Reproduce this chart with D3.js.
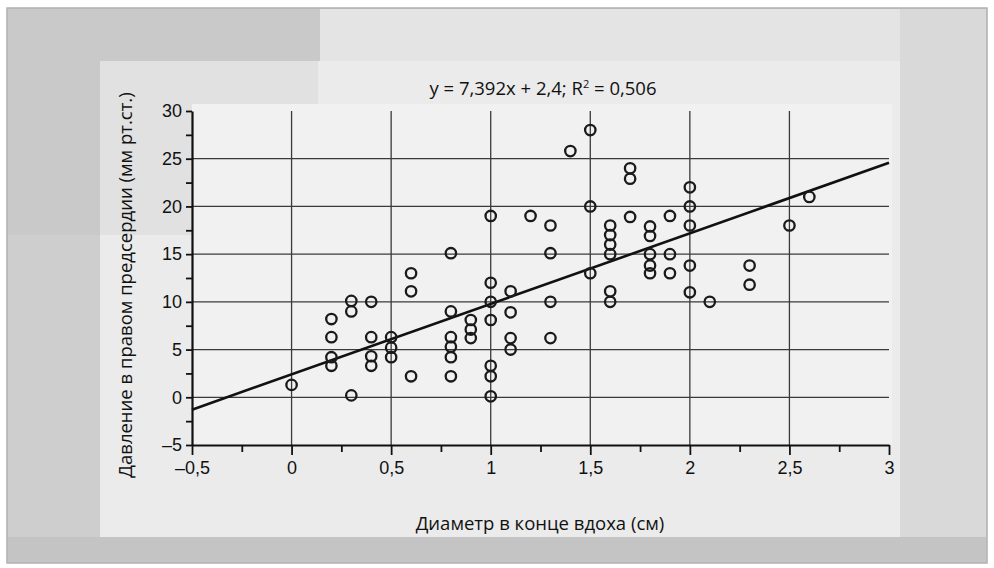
<!DOCTYPE html>
<meta charset="utf-8">
<style>
body { margin: 0; background: #ffffff; }
svg { font-family: "Open Sans", sans-serif; }
.axis path, .axis line { stroke: #111; }
.axis text { font-size: 18px; fill: #111; }
.grid line { stroke: #3a3a3a; stroke-width: 1.3; }
</style>
<svg width="994" height="568"></svg>
<script src="https://d3js.org/d3.v7.min.js"></script>
<script>

// diameter at end of inspiration (cm) and right atrial pressure (mm Hg)
var diameter = [0,
    0.2, 0.2, 0.2, 0.2,
    0.3, 0.3, 0.3,
    0.4, 0.4, 0.4, 0.4,
    0.5, 0.5, 0.5,
    0.6, 0.6, 0.6,
    0.8, 0.8, 0.8, 0.8, 0.8, 0.8,
    0.9, 0.9, 0.9,
    1.0, 1.0, 1.0, 1.0, 1.0, 1.0, 1.0,
    1.1, 1.1, 1.1, 1.1,
    1.2,
    1.3, 1.3, 1.3, 1.3,
    1.4,
    1.5, 1.5, 1.5,
    1.6, 1.6, 1.6, 1.6, 1.6, 1.6,
    1.7, 1.7, 1.7,
    1.8, 1.8, 1.8, 1.8, 1.8,
    1.9, 1.9, 1.9,
    2.0, 2.0, 2.0, 2.0, 2.0,
    2.1,
    2.3, 2.3,
    2.5,
    2.6];
var pressure = [1.3,
    8.2, 6.3, 4.2, 3.3,
    10.1, 9.0, 0.2,
    10.0, 6.3, 4.3, 3.3,
    6.3, 5.2, 4.2,
    13.0, 11.1, 2.2,
    15.1, 9.0, 6.3, 5.3, 4.2, 2.2,
    8.1, 7.1, 6.2,
    19.0, 12.0, 10.0, 8.1, 3.3, 2.2, 0.1,
    11.1, 8.9, 6.2, 5.0,
    19.0,
    18.0, 15.1, 10.0, 6.2,
    25.8,
    28.0, 20.0, 13.0,
    18.0, 17.0, 16.0, 15.0, 11.1, 10.0,
    24.0, 22.9, 18.9,
    17.9, 16.9, 15.0, 13.8, 13.0,
    19.0, 15.0, 13.0,
    22.0, 20.0, 18.0, 13.8, 11.0,
    10.0,
    13.8, 11.8,
    18.0,
    21.0];

var slope = 7.392, intercept = 2.4, r2 = 0.506;
var xTicks = [-0.5, 0, 0.5, 1, 1.5, 2, 2.5, 3];
var yTicks = [-5, 0, 5, 10, 15, 20, 25, 30];

var svg = d3.select("svg");

// scanned page background
function block(x0, y0, w, h, c) {
    svg.append("rect").attr("x", x0).attr("y", y0).attr("width", w).attr("height", h).attr("fill", c);
}
svg.append("rect").attr("x", 7).attr("y", 8).attr("width", 980).attr("height", 555)
    .attr("fill", "#cecece").attr("stroke", "#b0b0b0").attr("stroke-width", 1.5);
block(8, 9, 312, 226, "#c9c9c9");
block(320, 9, 580, 52, "#e4e4e4");
block(900, 9, 86, 528, "#d9d9d9");
block(100, 61, 800, 476, "#ebebeb");
block(100, 61, 218, 174, "#e1e1e1");
block(8, 537, 978, 25, "#c4c4c4");
block(192, 104, 700, 341, "#f1f1f1");

var x = d3.scaleLinear().domain([-0.5, 3]).range([192, 889]),
    y = d3.scaleLinear().domain([-5, 30]).range([445, 111]);

var loc = d3.formatLocale({decimal: ",", thousands: " ", grouping: [3], currency: ["", ""], minus: "\u2013"});
var fmt = loc.format("~g");

// grid
svg.append("g").attr("class", "grid")
    .selectAll("line").data(yTicks.filter(function(d) { return d > -5 && d < 30; }))
    .enter().append("line")
    .attr("x1", x(-0.5)).attr("x2", x(3))
    .attr("y1", function(d) { return y(d); }).attr("y2", function(d) { return y(d); });

svg.append("g").attr("class", "grid")
    .selectAll("line").data(xTicks.filter(function(d) { return d > -0.5 && d < 3; }))
    .enter().append("line")
    .attr("x1", function(d) { return x(d); }).attr("x2", function(d) { return x(d); })
    .attr("y1", y(30)).attr("y2", y(-5));

// axes
function isMajor(d) { return Math.abs(d * 2 - Math.round(d * 2)) < 1e-6; }

var gx = svg.append("g").attr("class", "axis")
    .attr("transform", "translate(0," + y(-5) + ")")
    .call(d3.axisBottom(x).tickValues(d3.range(-0.5, 3.01, 0.25))
        .tickSize(10).tickSizeOuter(0)
        .tickFormat(function(d) { return isMajor(d) ? fmt(d) : ""; }));
gx.select(".domain").attr("stroke-width", 2.2);
gx.selectAll(".tick line").attr("stroke-width", 1.8)
    .attr("y2", function(d) { return isMajor(d) ? 10 : 7; });
gx.selectAll(".tick text").attr("y", 16);

var gy = svg.append("g").attr("class", "axis")
    .attr("transform", "translate(" + x(-0.5) + ",0)")
    .call(d3.axisLeft(y).tickValues(d3.range(-5, 30.01, 2.5))
        .tickSize(6).tickSizeOuter(0)
        .tickFormat(function(d) { return d % 5 === 0 ? fmt(d) : ""; }));
gy.select(".domain").attr("stroke-width", 2.2);
gy.selectAll(".tick line").attr("stroke-width", 1.8);
gy.selectAll(".tick text").attr("x", -10);

// regression line
svg.append("line")
    .attr("x1", x(-0.5)).attr("y1", y(slope * -0.5 + intercept))
    .attr("x2", x(3)).attr("y2", y(slope * 3 + intercept))
    .attr("stroke", "#111").attr("stroke-width", 2.6);

// points
svg.append("g").selectAll("circle")
    .data(diameter.map(function(d, i) { return [d, pressure[i]]; }))
    .enter().append("circle")
    .attr("cx", function(d) { return x(d[0]); })
    .attr("cy", function(d) { return y(d[1]); })
    .attr("r", 5.2)
    .attr("fill", "none")
    .attr("stroke", "#1a1a1a")
    .attr("stroke-width", 2.3);

// equation
var eq = svg.append("text")
    .attr("x", 543).attr("y", 95)
    .attr("text-anchor", "middle")
    .style("font-size", "18.5px").attr("fill", "#111");
eq.append("tspan").text("y = " + fmt(slope) + "x + " + fmt(intercept) + "; R");
eq.append("tspan").attr("dy", -7).style("font-size", "11px").text("2");
eq.append("tspan").attr("dy", 7).text(" = " + loc.format(".3f")(r2));

svg.append("text")
    .attr("x", 540).attr("y", 530)
    .attr("text-anchor", "middle")
    .style("font-size", "18.5px").attr("fill", "#111")
    .text("Диаметр в конце вдоха (см)");

svg.append("text")
    .attr("transform", "translate(132,285) rotate(-90)")
    .attr("text-anchor", "middle")
    .style("font-size", "18.5px").attr("fill", "#111")
    .text("Давление в правом предсердии (мм рт.ст.)");

</script>
